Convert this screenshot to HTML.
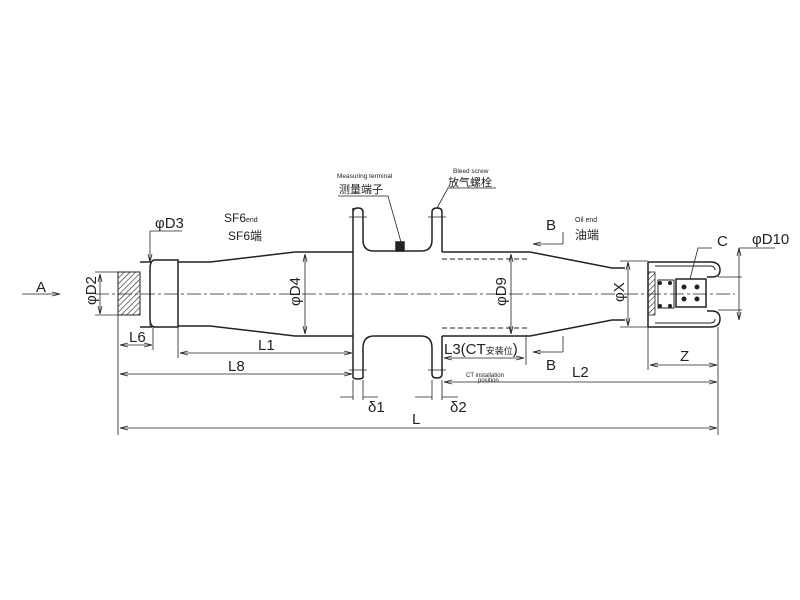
<!DOCTYPE html>
<html><head><meta charset="utf-8"><style>
html,body{margin:0;padding:0;background:#fff;}
svg{display:block;}
text{font-family:"Liberation Sans","Noto Sans CJK SC",sans-serif;fill:#222;}
</style></head><body>
<svg width="800" height="600" viewBox="0 0 800 600" xmlns="http://www.w3.org/2000/svg">
<defs>
<pattern id="h" width="4" height="4" patternUnits="userSpaceOnUse" patternTransform="rotate(45)"><line x1="0" y1="0" x2="0" y2="4" stroke="#222" stroke-width="1.2"/></pattern>
<marker id="a" markerWidth="8" markerHeight="6" refX="8" refY="3" orient="auto-start-reverse" markerUnits="userSpaceOnUse"><path d="M0,1 L8,3 L0,5" fill="none" stroke="#222" stroke-width="0.8"/></marker>
</defs>
<g stroke="#222" stroke-width="1.5" fill="none">
<line x1="95" y1="294" x2="735" y2="294" stroke-width="0.8" stroke-dasharray="14,3,3,3"/>
<rect x="118" y="272" width="22" height="43" fill="url(#h)" stroke-width="1"/>
<path d="M140,262 H152 M140,327 H152"/>
<path d="M155,260 H178 V327 H155 Q150,327 150,318 V269 Q150,260 155,260 Z"/>
<path d="M178,262 H210 L295,252 H353 M178,326 H210 L295,336 H353"/>
<path d="M353,208 V378 M363,212 Q363,208 358,208 Q353,208 353,212"/>
<path d="M363,212 V240 Q363,251 374,251 H421 Q432,251 432,240 V212 Q432,208 437,208 Q442,208 442,212 V252"/>
<path d="M363,378 V348 Q363,336 374,336 H421 Q432,336 432,348 V374 Q432,378 437,378 Q442,378 442,374 V336"/>
<path d="M353,378 Q358,380 363,378"/>
<path d="M349,217 H367 M428,217 H446 M349,370 H367 M428,370 H446" stroke-width="0.8"/>
<rect x="396" y="242" width="8" height="9" fill="#222"/>
<path d="M401,242 L388,196 H338" stroke-width="0.8"/>
<path d="M437,208 L448,188 H496" stroke-width="0.8"/>
<path d="M442,252 H530 L612,268 H625 M442,336 H530 L612,320 H625"/>
<path d="M442,259 H527 M442,328 H527" stroke-dasharray="5,3" stroke-width="1"/>
<path d="M648,262 V327 M648,262 H710 Q720,262 720,270 Q720,277 712,277 H707 M648,327 H710 Q720,327 720,319 Q720,311 712,311 H707"/>
<path d="M655,266 H710 Q715,266 715,270 M655,323 H710 Q715,323 715,319" stroke-width="1"/>
<rect x="648" y="272" width="7" height="43" fill="url(#h)" stroke-width="0.8"/>
<rect x="658" y="280" width="16" height="28" stroke-width="1"/>
<rect x="676" y="279" width="30" height="28"/>
<g fill="#222" stroke="none"><circle cx="684" cy="287" r="2.5"/><circle cx="697" cy="287" r="2.5"/><circle cx="684" cy="299" r="2.5"/><circle cx="697" cy="299" r="2.5"/><circle cx="660" cy="283" r="2"/><circle cx="670" cy="283" r="2"/><circle cx="660" cy="306" r="2"/><circle cx="670" cy="306" r="2"/></g>
<path d="M690,279 L698,248 H712" stroke-width="0.8"/>
</g>
<g stroke="#222" stroke-width="0.8" fill="none">
<path d="M118,315 V435 M178,327 V358 M153,327 V350 M353,380 V400 M363,380 V400 M432,380 V400 M442,380 V400 M648,327 V370 M718,327 V435"/>
<line x1="120" y1="345" x2="152" y2="345" marker-start="url(#a)" marker-end="url(#a)"/>
<line x1="180" y1="353" x2="352" y2="353" marker-start="url(#a)" marker-end="url(#a)"/>
<line x1="120" y1="374" x2="352" y2="374" marker-start="url(#a)" marker-end="url(#a)"/>
<line x1="120" y1="428" x2="717" y2="428" marker-start="url(#a)" marker-end="url(#a)"/>
<line x1="444" y1="382" x2="717" y2="382" marker-start="url(#a)" marker-end="url(#a)"/>
<line x1="444" y1="358" x2="524" y2="358" marker-start="url(#a)" marker-end="url(#a)"/>
<line x1="650" y1="365" x2="717" y2="365" marker-start="url(#a)" marker-end="url(#a)"/>
<path d="M526,335 V365"/>
<path d="M340,397 H353 M363,397 H378 M415,397 H432 M442,397 H458"/>
<line x1="100" y1="274" x2="100" y2="314" marker-start="url(#a)" marker-end="url(#a)"/>
<path d="M95,272 H118 M95,315 H118"/>
<line x1="305" y1="254" x2="305" y2="334" marker-start="url(#a)" marker-end="url(#a)"/>
<line x1="511" y1="254" x2="511" y2="334" marker-start="url(#a)" marker-end="url(#a)"/>
<line x1="628" y1="262" x2="628" y2="326" marker-start="url(#a)" marker-end="url(#a)"/>
<path d="M620,261 H648 M620,327 H648"/>
<line x1="150" y1="231" x2="150" y2="262" marker-end="url(#a)"/>
<path d="M150,231 H182 M150,327 V310"/>
<line x1="739" y1="248" x2="739" y2="320" marker-start="url(#a)" marker-end="url(#a)"/>
<path d="M739,248 H775 M718,277 H742 M718,310 H742"/>
<line x1="60" y1="294" x2="22" y2="294" marker-start="url(#a)"/>
<path d="M563,244 V232"/><line x1="563" y1="244" x2="533" y2="244" marker-end="url(#a)"/>
<path d="M563,336 V352"/><line x1="563" y1="352" x2="533" y2="352" marker-end="url(#a)"/>
</g>
<g font-size="15">
<text x="36" y="292">A</text>
<text x="155" y="228">φD3</text>
<text x="129" y="342">L6</text>
<text x="258" y="350">L1</text>
<text x="228" y="371">L8</text>
<text x="412" y="424">L</text>
<text x="572" y="377">L2</text>
<text x="680" y="361">Z</text>
<text x="444" y="354">L3(CT<tspan font-size="9">安装位</tspan>)</text>
<text x="368" y="412">δ1</text>
<text x="450" y="412">δ2</text>
<text x="546" y="230">B</text>
<text x="546" y="370">B</text>
<text x="717" y="246">C</text>
<text x="752" y="244">φD10</text>
<text transform="translate(96,305) rotate(-90)">φD2</text>
<text transform="translate(300,306) rotate(-90)">φD4</text>
<text transform="translate(506,306) rotate(-90)">φD9</text>
<text transform="translate(624,302) rotate(-90)">φX</text>
</g>
<g font-size="12"><text x="224" y="222">SF6<tspan font-size="7">end</tspan></text><text x="228" y="240">SF6端</text></g>
<text x="575" y="222" font-size="7">Oil end</text><text x="575" y="239" font-size="12">油端</text>
<text x="337" y="178" font-size="6.5">Measuring terminal</text>
<text x="339" y="193" font-size="11">测量端子</text>
<text x="453" y="173" font-size="6.5">Bleed screw</text>
<text x="448" y="186" font-size="11">放气螺栓</text>
<text x="466" y="377" font-size="6">CT installation</text>
<text x="478" y="382" font-size="6">position</text>
</svg>
</body></html>
